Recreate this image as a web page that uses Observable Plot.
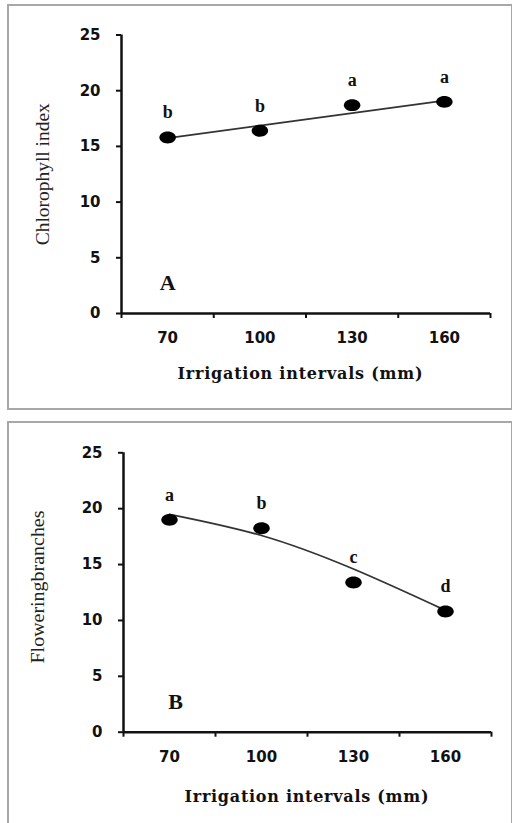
<!DOCTYPE html>
<html>
<head>
<meta charset="utf-8">
<script src="https://cdn.jsdelivr.net/npm/d3@7"></script>
<script src="https://cdn.jsdelivr.net/npm/@observablehq/plot@0.6"></script>
<style>
  html, body { margin: 0; padding: 0; background: #fff; }
  #page { position: relative; width: 512px; height: 823px; overflow: hidden; background: #fff; }
  .box { position: absolute; border: 2px solid #a8a8a8; box-sizing: border-box; }
  .plot { position: absolute; left: 0; }
</style>
</head>
<body>
<div id="page">
  <div class="box" style="left:7px; top:4px; width:506px; height:406px;"></div>
  <div class="box" style="left:7px; top:421px; width:506px; height:420px;"></div>
  <div class="plot" id="pa" style="top:0px;"></div>
  <div class="plot" id="pb" style="top:410px;"></div>
</div>
<script>
// ---- data ----
const intervals = [70, 100, 130, 160];
const chlorophyll = [15.8, 16.4, 18.7, 19.0];
const chlorophyllLetters = ["b", "b", "a", "a"];
const chlorophyllTrend = [15.75, 16.87, 17.98, 19.1];
const flowering = [19.0, 18.25, 13.4, 10.8];
const floweringLetters = ["a", "b", "c", "d"];
const floweringTrend = [19.5, 17.6, 14.6, 10.9];
const yTicks = [0, 5, 10, 15, 20, 25];
const xLabelTicks = [70, 100, 130, 160];
const xBoundaryTicks = [55, 85, 115, 145, 175];
const xTitle = "Irrigation intervals (mm)";

// ellipse symbol (points in the source are slightly wider than tall)
const ellipse = {
  draw(context, size) {
    const r = Math.sqrt(size / Math.PI);
    const rx = r * 1.25, ry = r * 0.9, k = 0.5523;
    context.moveTo(rx, 0);
    context.bezierCurveTo(rx, ry * k, rx * k, ry, 0, ry);
    context.bezierCurveTo(-rx * k, ry, -rx, ry * k, -rx, 0);
    context.bezierCurveTo(-rx, -ry * k, -rx * k, -ry, 0, -ry);
    context.bezierCurveTo(rx * k, -ry, rx, -ry * k, rx, 0);
    context.closePath();
  }
};

function panel(o) {
  const pts = intervals.map((x, i) => ({x, y: o.values[i], letter: o.letters[i]}));
  const trend = intervals.map((x, i) => ({x, y: o.trend[i]}));
  const svg = Plot.plot({
    width: 512,
    height: o.height,
    marginTop: o.marginTop,
    marginBottom: o.marginBottom,
    marginLeft: o.marginLeft,
    marginRight: o.marginRight,
    style: {fontFamily: "DejaVu Sans", fontSize: "15px", fontWeight: "bold", color: "#111", background: "transparent", overflow: "visible"},
    x: {type: "linear", domain: [55, 175]},
    y: {type: "linear", domain: [0, 25]},
    marks: [
      Plot.axisY(yTicks, {tickSize: 5, tickPadding: 16, strokeWidth: 2, label: null, fontSize: 15, fontWeight: "bold", fontFamily: "DejaVu Sans"}),
      Plot.axisX(xBoundaryTicks, {tickSize: 5, tickFormat: () => "", strokeWidth: 2, label: null}),
      Plot.axisX(xLabelTicks, {tickSize: 0, tickPadding: 19, label: null, fontSize: 15, fontWeight: "bold", fontFamily: "DejaVu Sans"}),
      Plot.ruleX([55], {y1: 0, y2: 25, strokeWidth: 2.5, stroke: "#111"}),
      Plot.ruleY([0], {x1: 55, x2: 175, strokeWidth: 2.5, stroke: "#111"}),
      Plot.line(trend, {x: "x", y: "y", curve: o.curve, stroke: "#333", strokeWidth: 1.8}),
      Plot.dot(pts, {x: "x", y: "y", r: 6.6, symbol: ellipse, fill: "#000", stroke: "none"}),
      Plot.text(pts, {x: "x", y: "y", text: "letter", dy: -25, fontFamily: "Liberation Serif", fontWeight: "bold", fontSize: 18, fill: "#111"}),
      Plot.text([o.tag], {x: o.tagX, y: 2.7, text: d => d, fontFamily: "Liberation Serif", fontWeight: "bold", fontSize: 22, fill: "#111"}),
      Plot.text([xTitle], {frameAnchor: "bottom", textAnchor: "middle", text: d => d, dx: o.titleDx, dy: o.titleDy, fontFamily: "DejaVu Serif", fontWeight: "bold", fontSize: 16, fill: "#111"}),
      Plot.text([o.yLabel], {frameAnchor: "left", textAnchor: "middle", text: d => d, rotate: -90, dx: o.yDx, dy: o.yDy, fontFamily: "Liberation Serif", fontWeight: "normal", fontSize: o.yFont, fill: "#222"})
    ]
  });
  // stretch titles to the lengths they have in the source
  svg.querySelectorAll("text").forEach(t => {
    if (t.textContent === xTitle) {
      t.setAttribute("textLength", o.titleLength);
      t.setAttribute("lengthAdjust", "spacing");
    } else if (t.textContent === o.yLabel) {
      t.setAttribute("textLength", o.yLength);
      t.setAttribute("lengthAdjust", "spacingAndGlyphs");
    }
  });
  return svg;
}

document.getElementById("pa").appendChild(panel({
  values: chlorophyll, letters: chlorophyllLetters, trend: chlorophyllTrend, curve: "linear",
  yLabel: "Chlorophyll index", tag: "A", tagX: 70,
  height: 410, marginTop: 34.5, marginBottom: 97, marginLeft: 121, marginRight: 22,
  titleDx: -6, titleDy: 65, titleLength: 245, yDx: -79, yDy: 0, yFont: 19, yLength: 142
}));
document.getElementById("pb").appendChild(panel({
  values: flowering, letters: floweringLetters, trend: floweringTrend, curve: "natural",
  yLabel: "Floweringbranches", tag: "B", tagX: 72,
  height: 413, marginTop: 42.3, marginBottom: 91.3, marginLeft: 123, marginRight: 21,
  titleDx: -1, titleDy: 70, titleLength: 244, yDx: -86, yDy: -5.5, yFont: 19, yLength: 153
}));
</script>
</body>
</html>
